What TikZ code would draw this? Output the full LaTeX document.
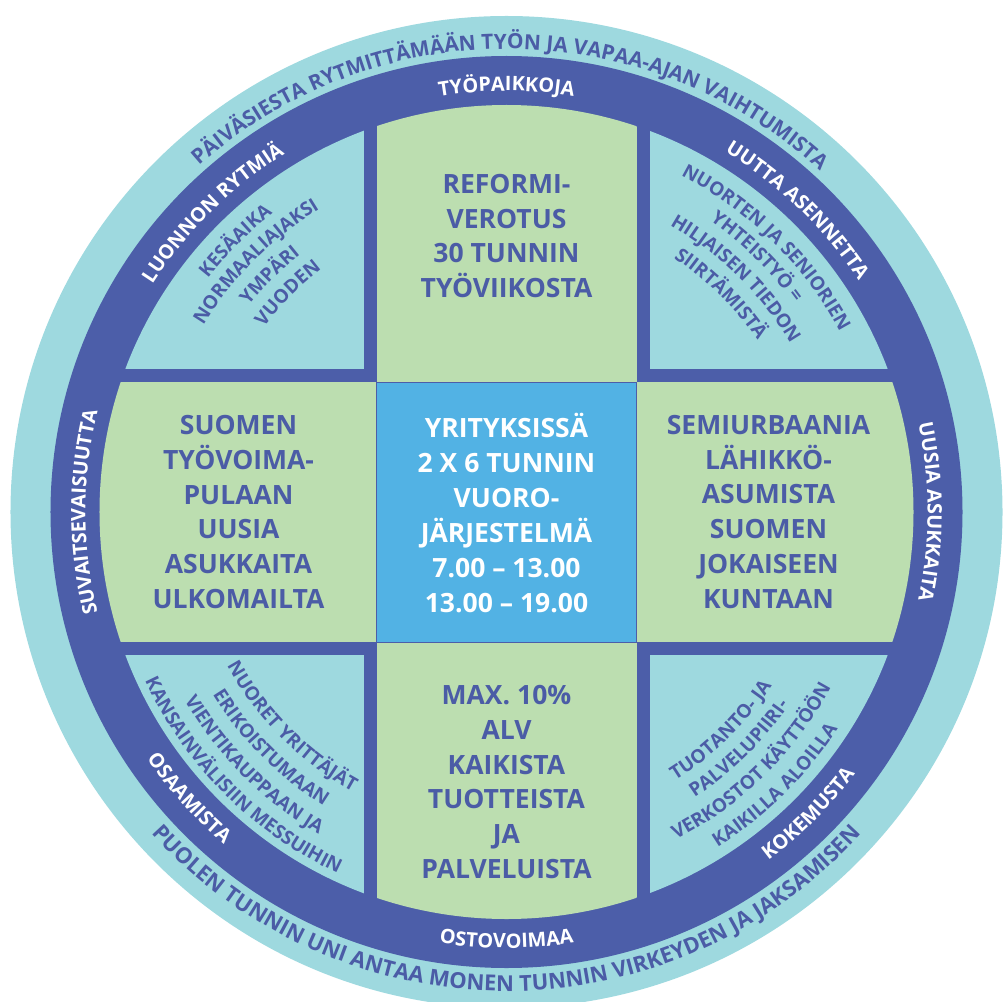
\documentclass[tikz,border=0pt]{standalone}
\usepackage{fontspec}
\setmainfont{Open Sans}
\usetikzlibrary{decorations.text}
\definecolor{ringblue}{HTML}{4C5EA9}
\definecolor{paleblue}{HTML}{9ED9DF}
\definecolor{tilegreen}{HTML}{BCDEB0}
\definecolor{centreblue}{HTML}{52B2E4}
\definecolor{textblue}{HTML}{4B5CA6}
\newcommand{\outerfont}{\bfseries\fontsize{11.9}{12}\selectfont\color{textblue}}
\newcommand{\lowerfont}{\bfseries\fontsize{12.5}{13}\selectfont\color{textblue}}
\newcommand{\ringfont}{\bfseries\fontsize{11.3}{12}\selectfont\color{white}}
\newcommand{\cornerfont}{\bfseries\fontsize{10.8}{12}\selectfont\color{textblue}}
% text on a circle: radius, centre angle, format, text
\newcommand{\cwtext}[4]{\path[decorate,decoration={text along path,text align=center,text={|#3|#4}}]
  ({#2+70}:#1) arc[start angle={#2+70},end angle={#2-70},radius=#1];}
\newcommand{\ccwtext}[4]{\path[decorate,decoration={text along path,text align=center,text={|#3|#4}}]
  ({#2-70}:#1) arc[start angle={#2-70},end angle={#2+70},radius=#1];}
\begin{document}
\begin{tikzpicture}[x=0.02cm,y=0.02cm,
  tile text/.style={align=center,text=textblue,font=\bfseries\fontsize{15.1}{19.9}\selectfont},
  centre text/.style={tile text,text=white}]
\useasboundingbox (-506.5,-489) rectangle (499.5,512);
\fill[paleblue] (0,0) circle[radius=496];
\fill[ringblue] (0,0) circle[radius=456];
\begin{scope}
\clip (0,0) circle[radius=407];
\foreach \sx/\sy in {1/1,-1/1,-1/-1,1/-1}
  \fill[paleblue] (\sx*143,\sy*143) rectangle (\sx*420,\sy*420);
\foreach \a in {0,90,180,270}
  \fill[tilegreen,rotate=\a] (-130,130) rectangle (130,420);
\filldraw[fill=centreblue,draw=ringblue,thin] (-130,-130) rectangle (130,130);
\end{scope}
% tiles
\node[tile text] (verotus) at (0,276) {REFORMI-\\VEROTUS\\30 TUNNIN\\TYÖVIIKOSTA};
\node[centre text] (vuorot) at (0,-1) {YRITYKSISSÄ\\2 X 6 TUNNIN\\VUORO-\\JÄRJESTELMÄ\\7.00 – 13.00\\13.00 – 19.00};
\node[tile text] (alv) at (0,-270) {MAX. 10\%\\ALV\\KAIKISTA\\TUOTTEISTA\\JA\\PALVELUISTA};
\node[tile text] (tyovoima) at (-268,0) {SUOMEN\\TYÖVOIMA-\\PULAAN\\UUSIA\\ASUKKAITA\\ULKOMAILTA};
\node[tile text] (asuminen) at (262,0) {SEMIURBAANIA\\LÄHIKKÖ-\\ASUMISTA\\SUOMEN\\JOKAISEEN\\KUNTAAN};
% outer ring
\cwtext{463}{89.5}{\outerfont}{PÄIVÄSIESTA RYTMITTÄMÄÄN TYÖN JA VAPAA-AJAN VAIHTUMISTA}
\ccwtext{479}{270}{\lowerfont}{PUOLEN TUNNIN UNI ANTAA MONEN TUNNIN VIRKEYDEN JA JAKSAMISEN}
% dark ring
\cwtext{421}{90}{\ringfont}{TYÖPAIKKOJA}
\cwtext{421}{46}{\ringfont}{UUTTA ASENNETTA}
\cwtext{421}{0}{\ringfont}{UUSIA ASUKKAITA}
\cwtext{421}{180}{\ringfont}{SUVAITSEVAISUUTTA}
\cwtext{421}{134.5}{\ringfont}{LUONNON RYTMIÄ}
\ccwtext{436}{-45}{\ringfont}{KOKEMUSTA}
\ccwtext{436}{270}{\ringfont}{OSTOVOIMAA}
\ccwtext{436}{222}{\ringfont}{OSAAMISTA}
% corners
\cwtext{379}{135}{\cornerfont}{KESÄAIKA}
\cwtext{356}{135}{\cornerfont}{NORMAALIAJAKSI}
\cwtext{330}{135}{\cornerfont}{YMPÄRI}
\cwtext{305}{135}{\cornerfont}{VUODEN}
\cwtext{379}{45.5}{\cornerfont}{NUORTEN JA SENIORIEN}
\cwtext{355}{45.5}{\cornerfont}{YHTEISTYÖ =}
\cwtext{330}{45.5}{\cornerfont}{HILJAISEN TIEDON}
\cwtext{304}{45.5}{\cornerfont}{SIIRTÄMISTÄ}
\ccwtext{319}{225}{\cornerfont}{NUORET YRITTÄJÄT}
\ccwtext{346}{225}{\cornerfont}{ERIKOISTUMAAN}
\ccwtext{373}{225}{\cornerfont}{VIENTIKAUPPAAN JA}
\ccwtext{399}{225}{\cornerfont}{KANSAINVÄLISIIN MESSUIHIN}
\ccwtext{317}{-45.5}{\cornerfont}{TUOTANTO- JA}
\ccwtext{342}{-45.5}{\cornerfont}{PALVELUPIIRI-}
\ccwtext{369}{-45.5}{\cornerfont}{VERKOSTOT KÄYTTÖÖN}
\ccwtext{396}{-45.5}{\cornerfont}{KAIKILLA ALOILLA}
\end{tikzpicture}
\end{document}
